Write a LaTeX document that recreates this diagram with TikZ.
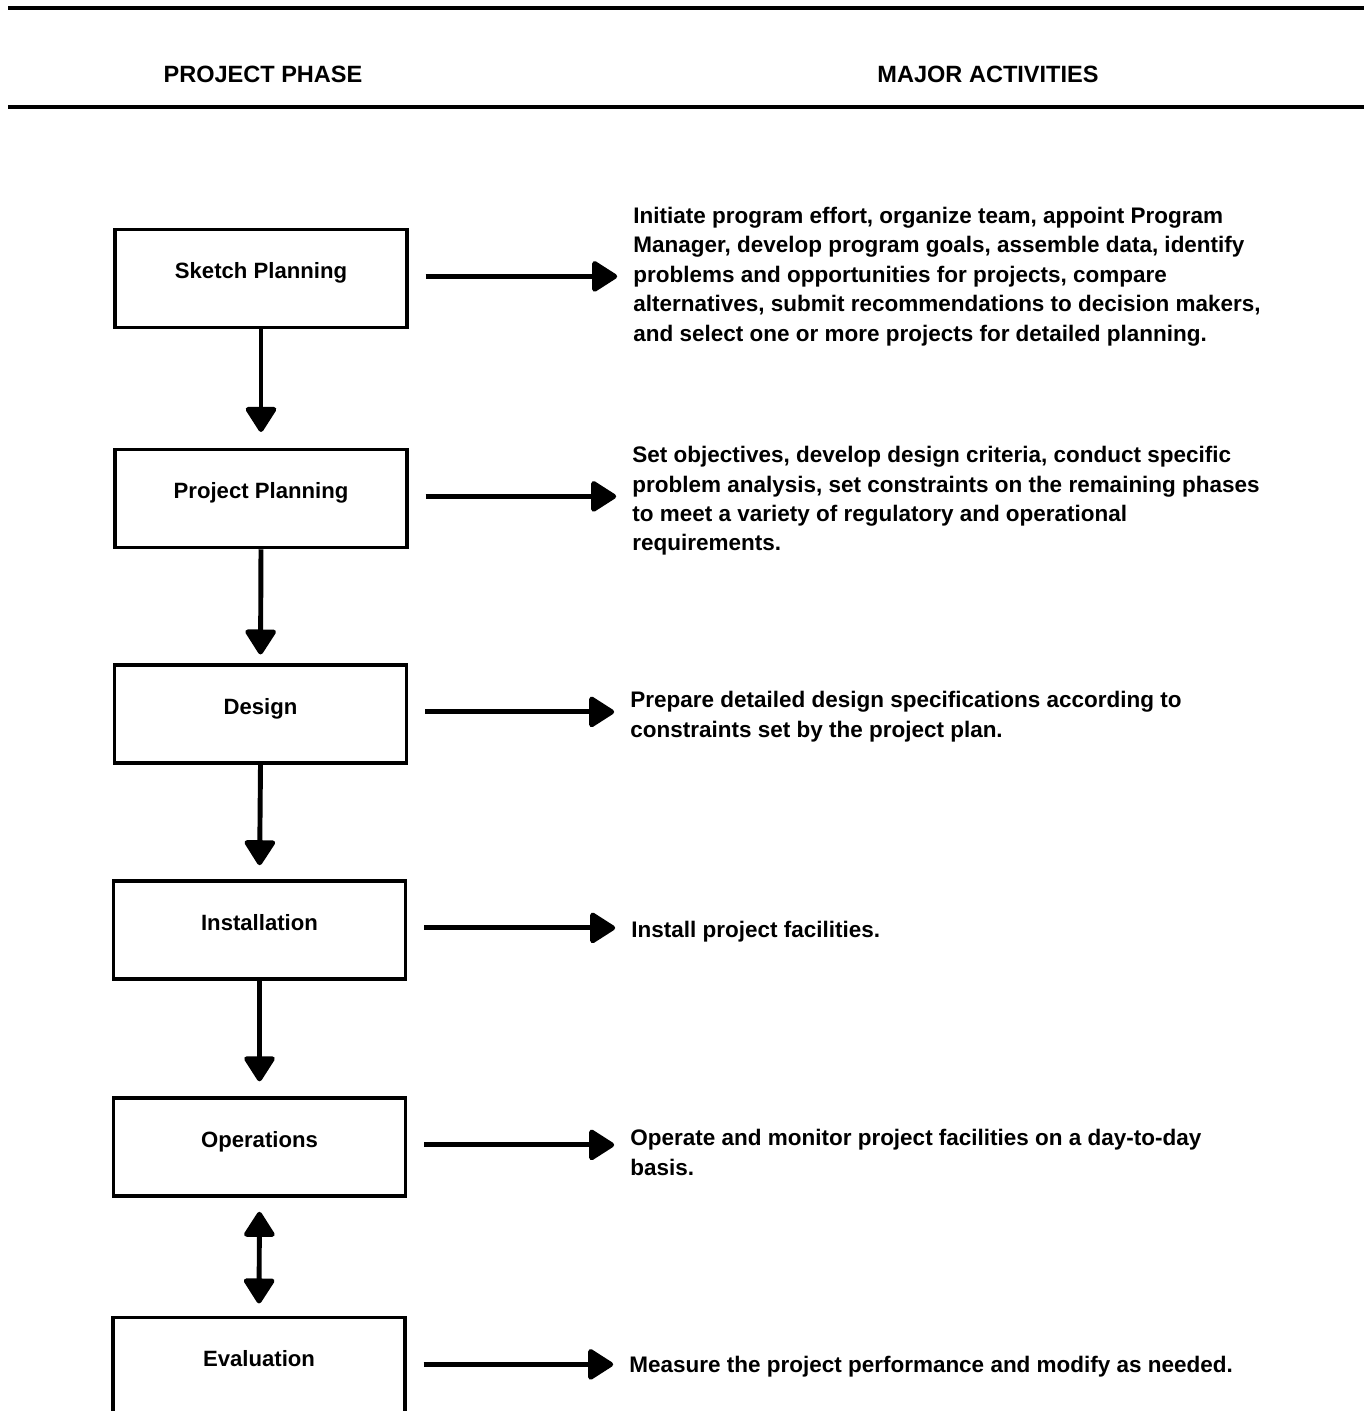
\documentclass[tikz,border=0pt]{standalone}
\usepackage{fontspec}
\setmainfont{Liberation Sans}
\usetikzlibrary{arrows.meta}
\begin{document}
\begin{tikzpicture}[x=0.02cm,y=-0.02cm,
  rule/.style={line width=2.8pt},
  header/.style={font=\bfseries\fontsize{13.4}{16}\selectfont, inner sep=0},
  phase/.style={draw, line width=2pt, minimum width=5.84cm, minimum height=1.96cm,
    inner sep=0, text height=8pt, text depth=8pt,
    font=\bfseries\fontsize{12.6}{15}\selectfont},
  activity/.style={anchor=north west, align=left, inner sep=0,
    font=\bfseries\fontsize{12.8}{16.7}\selectfont},
  tip/.tip={Triangle[length=15.5pt,width=19pt,round]},
  flow/.style={line width=2.8pt, -tip},
  flowboth/.style={line width=2.8pt, tip-tip},
]
\useasboundingbox (0,0) rectangle (1364,1411);

% header rules and column titles
\draw[rule] (8,8) -- (1364,8);
\draw[rule] (8,107) -- (1364,107);
\node[header] (hphase) at (263,74) {PROJECT PHASE};
\node[header] (hact) at (988,74) {MAJOR ACTIVITIES};

% project phases
\node[phase] (sk) at (261,278.5) {Sketch Planning};
\node[phase] (pp) at (261,498.5) {Project Planning};
\node[phase] (de) at (260.5,714) {Design};
\node[phase] (in) at (259.5,930) {Installation};
\node[phase] (op) at (259.5,1147) {Operations};
\node[phase] (ev) at (259,1366.5) {Evaluation};

% activities
\node[activity] (a1) at (633,207) {Initiate program effort, organize team, appoint Program\\
Manager, develop program goals, assemble data, identify\\
problems and opportunities for projects, compare\\
alternatives, submit recommendations to decision makers,\\
and select one or more projects for detailed planning.};
\node[activity] (a2) at (632,446) {Set objectives, develop design criteria, conduct specific\\
problem analysis, set constraints on the remaining phases\\
to meet a variety of regulatory and operational\\
requirements.};
\node[activity] (a3) at (630,691) {Prepare detailed design specifications according to\\
constraints set by the project plan.};
\node[activity] (a4) at (631,921) {Install project facilities.};
\node[activity] (a5) at (630,1129) {Operate and monitor project facilities on a day-to-day\\
basis.};
\node[activity] (a6) at (629,1356) {Measure the project performance and modify as needed.};

% phase sequence
\draw[flow, shorten >=9pt] (sk.south) -- (pp.north);
\draw[flow, shorten >=5pt] (pp.south) -- (de.north);
\draw[flow, shorten >=8pt] (de.south) -- (in.north);
\draw[flow, shorten >=8.5pt] (in.south) -- (op.north);
\draw[flowboth, shorten <=8pt, shorten >=7pt] (op.south) -- (ev.north);

% phase to activity
\foreach \p/\a in {sk/a1,pp/a2,de/a3,in/a4,op/a5,ev/a6}
  \draw[flow, shorten <=9.6pt, shorten >=9pt] ([yshift=1.2pt]\p.east) -- ([yshift=1.2pt]\p.east -| \a.west);
\end{tikzpicture}
\end{document}
